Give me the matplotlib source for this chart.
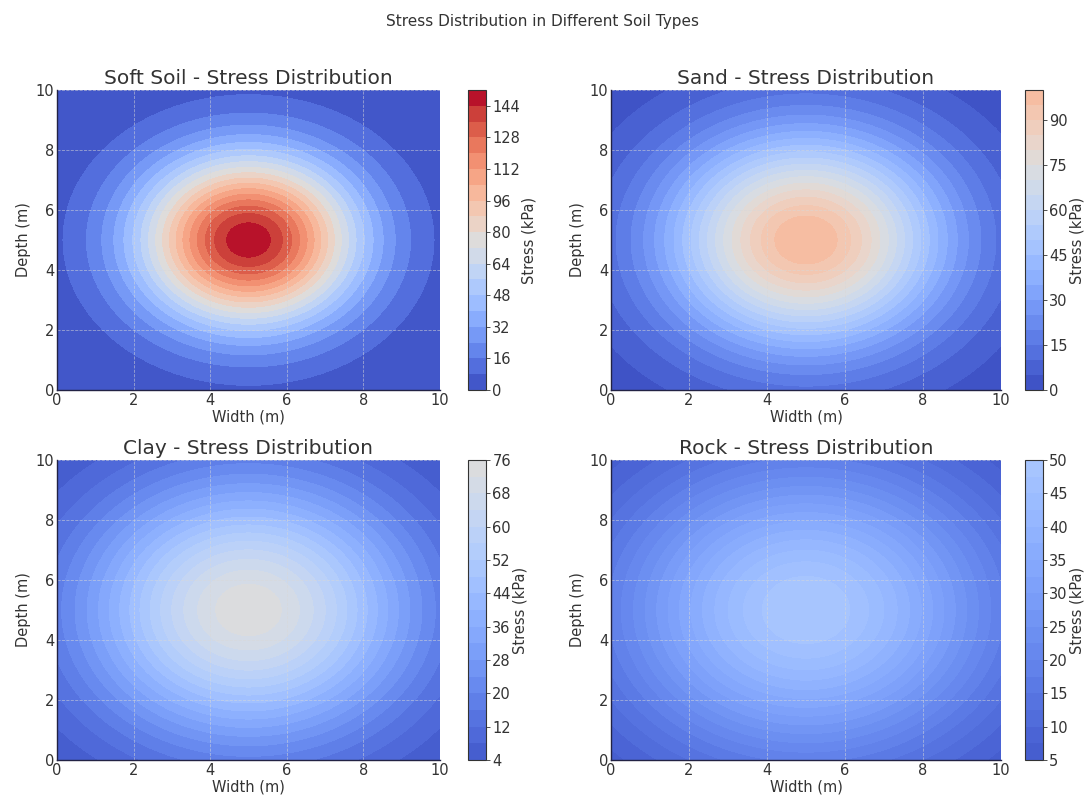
import numpy as np
import matplotlib
matplotlib.use("Agg")
import matplotlib.pyplot as plt

# soil types, peak load (kPa) and spread (m) of the stress bulb
soil_types = ["Soft Soil", "Sand", "Clay", "Rock"]
peak_loads = [150, 100, 75, 50]
spreads = [2.0, 2.5, 3.0, 3.5]
center = [5, 5]

x = np.linspace(0, 10, 100)
y = np.linspace(0, 10, 100)
X, Y = np.meshgrid(x, y)

plt.rcParams["font.family"] = "DejaVu Sans"
plt.rcParams["text.color"] = "#333333"
plt.rcParams["axes.labelcolor"] = "#333333"
plt.rcParams["xtick.color"] = "#333333"
plt.rcParams["ytick.color"] = "#333333"

W, H = 1086, 796
fig = plt.figure(figsize=(W / 100, H / 100), dpi=100)

# pixel boxes (left, top, right, bottom) for each axes and colorbar
ax_boxes = [(57, 90, 440, 390), (611, 90, 1001, 390),
            (57, 460, 440, 760), (611, 460, 1001, 760)]
cb_x = [(468, 486), (1025, 1043), (468, 486), (1025, 1043)]


def frac(l, t, r, b):
    return [l / W, 1 - b / H, (r - l) / W, (b - t) / H]


for i, name in enumerate(soil_types):
    l, t, r, b = ax_boxes[i]
    ax = fig.add_axes(frac(l, t, r, b))
    cax = fig.add_axes(frac(cb_x[i][0], t, cb_x[i][1], b))

    r2 = (X - center[0]) ** 2 + (Y - center[1]) ** 2
    stress = peak_loads[i] * np.exp(-r2 / (2 * spreads[i] ** 2))

    cf = ax.contourf(X, Y, stress, levels=20, cmap="coolwarm", vmin=0, vmax=150)
    ax.set_title(f"{name} - Stress Distribution", fontsize=14.5, pad=4)
    ax.set_xlabel("Width (m)", fontsize=10.5, labelpad=1)
    ax.set_ylabel("Depth (m)", fontsize=10.5, labelpad=3)
    ax.set_xlim(0, 10)
    ax.set_ylim(0, 10)
    ax.set_xticks([0, 2, 4, 6, 8, 10])
    ax.set_yticks([0, 2, 4, 6, 8, 10])
    ax.tick_params(length=0, labelsize=10.5, pad=2)
    ax.grid(True, linestyle="--", color="#d8d8d8", linewidth=0.6, alpha=0.6)
    for s in ["top", "right"]:
        ax.spines[s].set_visible(False)
    for s in ["left", "bottom"]:
        ax.spines[s].set_color("#222244")
        ax.spines[s].set_linewidth(1.0)

    cb = fig.colorbar(cf, cax=cax)
    cb.set_label("Stress (kPa)", fontsize=10.5, labelpad=1)
    cb.ax.tick_params(labelsize=10.5, length=3, width=0.6, pad=1.5)
    cb.outline.set_edgecolor("#333333")

fig.suptitle("Stress Distribution in Different Soil Types", fontsize=11, y=0.982, color="#333333")
fig.savefig("out.png", dpi=100)
